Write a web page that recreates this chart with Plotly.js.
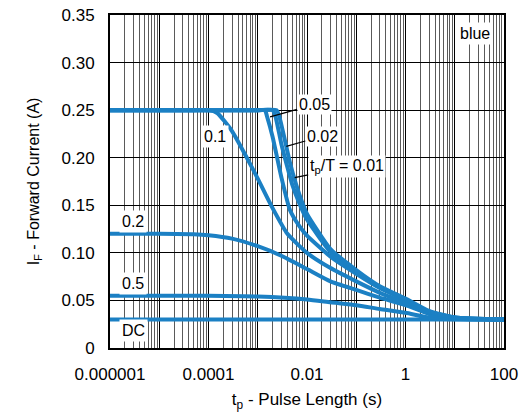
<!DOCTYPE html>
<html>
<head>
<meta charset="utf-8">
<script src="https://cdn.plot.ly/plotly-3.0.1.min.js"></script>
<style>html,body{margin:0;padding:0;background:#fff;}#chart{width:524px;height:415px;}</style>
</head>
<body>
<div id="chart"></div>
<script>
// Pulse length (s) and forward current (A) for each duty cycle tp/T
const dcX = [1e-6, 100];
const dcY = [0.03, 0.03];

const d05X = [1e-6, 1e-5, 1e-4, 1e-3, 1e-2, 3e-2, 0.1, 0.3, 1, 3, 10, 100];
const d05Y = [0.055, 0.055, 0.0548, 0.054, 0.051, 0.048, 0.045, 0.041, 0.037, 0.032, 0.0302, 0.03];

const d02X = [1e-6, 1e-5, 5e-5, 1e-4, 3e-4, 1e-3, 3e-3, 1e-2, 3e-2, 0.1, 0.3, 1, 3, 10, 100];
const d02Y = [0.12, 0.12, 0.1195, 0.1185, 0.115, 0.107, 0.097, 0.083, 0.070, 0.061, 0.053, 0.045, 0.036, 0.031, 0.03];

const d01X = [1e-6, 1e-5, 5e-5, 1e-4, 1.5e-4, 3e-4, 6e-4, 1e-3, 2e-3, 4e-3, 1e-2, 3e-2, 0.1, 0.3, 1, 3, 10, 100];
const d01Y = [0.25, 0.25, 0.25, 0.25, 0.247, 0.228, 0.2, 0.178, 0.147, 0.12, 0.1, 0.084, 0.07, 0.058, 0.047, 0.036, 0.031, 0.03];

const d005X = [1e-6, 1e-5, 1e-4, 1e-3, 1.4e-3, 1.55e-3, 2e-3, 3e-3, 4.5e-3, 7e-3, 1e-2, 3e-2, 0.1, 0.3, 1, 3, 10, 100];
const d005Y = [0.25, 0.25, 0.25, 0.25, 0.25, 0.243, 0.222, 0.18, 0.145, 0.128, 0.118, 0.096, 0.078, 0.063, 0.05, 0.038, 0.032, 0.03];

const d002X = [1e-6, 1e-5, 1e-4, 1e-3, 2e-3, 2.3e-3, 3e-3, 4e-3, 5e-3, 7e-3, 1e-2, 3e-2, 0.1, 0.3, 1, 3, 10, 100];
const d002Y = [0.25, 0.25, 0.25, 0.25, 0.25, 0.243, 0.215, 0.19, 0.172, 0.152, 0.135, 0.101, 0.08, 0.064, 0.051, 0.038, 0.032, 0.03];

const d001X = [1e-6, 1e-5, 1e-4, 1e-3, 2.4e-3, 2.75e-3, 3.5e-3, 4.5e-3, 6e-3, 8e-3, 1e-2, 3e-2, 0.1, 0.3, 1, 3, 10, 100];
const d001Y = [0.25, 0.25, 0.25, 0.25, 0.25, 0.243, 0.22, 0.195, 0.172, 0.153, 0.141, 0.104, 0.082, 0.065, 0.052, 0.039, 0.032, 0.03];

const xTickVals = [1e-6, 1e-5, 1e-4, 1e-3, 1e-2, 1e-1, 1, 10, 100];
const xTickText = ['0.000001', '', '0.0001', '', '0.01', '', '1', '', '100'];
const yTickVals = [0, 0.05, 0.10, 0.15, 0.20, 0.25, 0.30, 0.35];
const yTickText = ['0', '0.05', '0.10', '0.15', '0.20', '0.25', '0.30', '0.35'];

const blue = '#1b80c4';
const FONT = 'Liberation Sans, Arial, sans-serif';

function series(x, y, name) {
  return {x: x, y: y, name: name, type: 'scatter', mode: 'lines',
    line: {color: blue, width: 4, shape: 'spline', smoothing: 0.5},
    hoverinfo: 'skip', showlegend: false};
}

const traces = [
  series(dcX, dcY, 'DC'),
  series(d05X, d05Y, '0.5'),
  series(d02X, d02Y, '0.2'),
  series(d01X, d01Y, '0.1'),
  series(d005X, d005Y, '0.05'),
  series(d002X, d002Y, '0.02'),
  series(d001X, d001Y, '0.01')
];

const minorVals = [];
for (let e = -6; e < 2; e++) {
  for (let m = 2; m <= 9; m++) minorVals.push(m * Math.pow(10, e));
}

function lab(text, x, y, extra) {
  return Object.assign({text: text, x: x, y: y, xref: 'x', yref: 'y', showarrow: false,
    bgcolor: '#ffffff', borderpad: 2, font: {family: FONT, size: 16, color: '#000'}}, extra || {});
}

const arrow = {showarrow: true, arrowhead: 0, arrowwidth: 1.2, arrowcolor: '#000', borderpad: 1};
const annotations = [
  lab('0.1', -3.87, 0.222),
  lab('0.2', -5.53, 0.1325),
  lab('0.5', -5.53, 0.068),
  lab('DC', -5.53, 0.018),
  lab('blue', 1.41, 0.331),
  lab('0.05', -2.75, 0.243, Object.assign({ax: 44, ay: -12}, arrow)),
  lab('0.02', -2.42, 0.212, Object.assign({ax: 36, ay: -10}, arrow)),
  lab('t<sub>p</sub>/T = 0.01', -2.25, 0.179, Object.assign({ax: 52, ay: -11}, arrow))
];

const layout = {
  width: 524, height: 415,
  margin: {l: 110, r: 20, t: 15, b: 67},
  paper_bgcolor: '#fff', plot_bgcolor: '#fff',
  font: {family: FONT, size: 16, color: '#000'},
  xaxis: {
    type: 'log', range: [-6, 2],
    tickmode: 'array', tickvals: xTickVals, ticktext: xTickText,
    showgrid: true, gridcolor: '#000', gridwidth: 1,
    minor: {tickmode: 'array', tickvals: minorVals, showgrid: true, gridcolor: '#5a5a5a', gridwidth: 1, ticks: ''},
    ticks: '', showline: true, linecolor: '#000', linewidth: 2, mirror: true,
    zeroline: false, ticklabelstandoff: 10,
    tickfont: {family: FONT, size: 17},
    title: {text: 't<sub>p</sub> - Pulse Length (s)', font: {family: FONT, size: 17}, standoff: 10}
  },
  yaxis: {
    range: [0, 0.35],
    tickmode: 'array', tickvals: yTickVals, ticktext: yTickText,
    showgrid: true, gridcolor: '#000', gridwidth: 1,
    ticks: '', showline: true, linecolor: '#000', linewidth: 2, mirror: true,
    zeroline: false, ticklabelstandoff: 10,
    tickfont: {family: FONT, size: 17},
    title: {text: 'I<sub>F</sub> - Forward Current (A)', font: {family: FONT, size: 16}, standoff: 18}
  },
  annotations: annotations
};

Plotly.newPlot('chart', traces, layout, {staticPlot: true, displayModeBar: false});
</script>
</body>
</html>
